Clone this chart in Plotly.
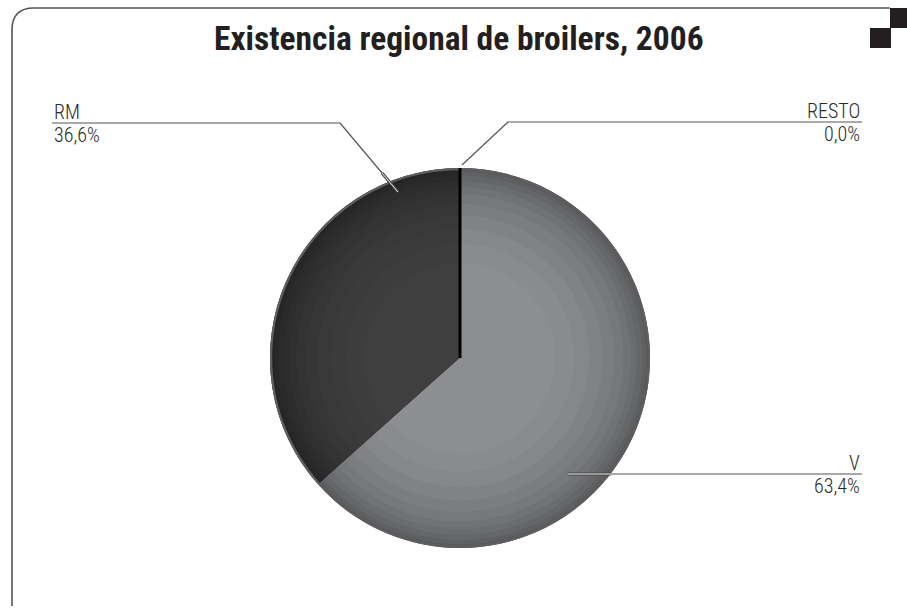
import plotly.graph_objects as go

W, H = 907, 608

# ---- data ----
categories = ["RESTO", "V", "RM"]
values = [0.0, 63.4, 36.6]
pct_labels = ["0,0%", "63,4%", "36,6%"]
title_text = "Existencia regional de broilers, 2006"

slice_colors = ["#000000", "#8d8e92", "#3f3f3f"]

def px(x):
    return x / W

def py(y):
    return 1 - y / H

# pie placement (pixels)
cx, cy, R = 460, 358, 190
dom_x = [px(cx - R), px(cx + R)]
dom_y = [py(cy + R), py(cy - R)]

fig = go.Figure()

fig.add_trace(go.Pie(
    labels=categories, values=values, sort=False, direction="clockwise",
    rotation=0, domain=dict(x=dom_x, y=dom_y),
    marker=dict(colors=slice_colors, line=dict(width=0)),
    textinfo="none", hoverinfo="label+percent", showlegend=False,
))

# radial darkening toward the rim (same data, translucent rings)
rings = [(0.50, 0.02), (0.60, 0.025), (0.68, 0.03), (0.75, 0.035), (0.81, 0.04),
         (0.86, 0.045), (0.90, 0.05), (0.93, 0.055), (0.96, 0.06), (0.98, 0.06)]
for hole, a in rings:
    fig.add_trace(go.Pie(
        labels=categories, values=values, sort=False, direction="clockwise",
        rotation=0, hole=hole, domain=dict(x=dom_x, y=dom_y),
        marker=dict(colors=[f"rgba(0,0,0,{a})"] * len(values), line=dict(width=0)),
        textinfo="none", hoverinfo="skip", showlegend=False,
    ))

# outer rim
fig.add_trace(go.Pie(
    labels=["rim"], values=[1], hole=0.988, sort=False,
    domain=dict(x=dom_x, y=dom_y),
    marker=dict(colors=["#5e5e60"], line=dict(width=0)),
    textinfo="none", hoverinfo="skip", showlegend=False,
))

shapes = []
# zero-value RESTO slice drawn as a radius line at 12 o'clock
shapes.append(dict(type="line", xref="paper", yref="paper",
                   x0=px(cx), y0=py(cy), x1=px(cx), y1=py(cy - R),
                   line=dict(color="#000000", width=3)))

def seg(x0, y0, x1, y1, color="#555555", width=1.2):
    shapes.append(dict(type="line", xref="paper", yref="paper",
                       x0=px(x0), y0=py(y0), x1=px(x1), y1=py(y1),
                       line=dict(color=color, width=width)))

# leader lines
# RM
seg(52, 123, 340, 123)
seg(340, 123, 398, 192)
seg(382, 173, 398, 192, color="#444444", width=3)
seg(382, 173, 398, 192, color="#eeeeee", width=1)
# RESTO
seg(508, 122, 862, 122)
seg(508, 122, 462, 165)
# V
seg(568, 474, 862, 474)
seg(568, 474, 611, 474, color="#444444", width=3)
seg(568, 474, 611, 474, color="#eeeeee", width=1)

# frame: rounded top-left corner, top and left edges
shapes.append(dict(type="path", xref="paper", yref="paper",
                   path=f"M {px(12)},{py(606)} L {px(12)},{py(30)} Q {px(12)},{py(8)} {px(34)},{py(8)} L {px(890)},{py(8)}",
                   line=dict(color="#555555", width=1.6)))
# corner squares
shapes.append(dict(type="rect", xref="paper", yref="paper",
                   x0=px(890), x1=px(907), y0=py(28), y1=py(8),
                   fillcolor="#231f20", line=dict(width=0)))
shapes.append(dict(type="rect", xref="paper", yref="paper",
                   x0=px(870), x1=px(891), y0=py(48), y1=py(28),
                   fillcolor="#231f20", line=dict(width=0)))

lab_font = dict(family="Roboto Condensed, Liberation Sans Narrow, sans-serif", size=20,
                color="#2a2a2a", weight=300)
annotations = []
label_pos = {
    "RM": (52, 123, "left"),
    "RESTO": (862, 122, "right"),
    "V": (862, 474, "right"),
}
for cat, pct in zip(categories, pct_labels):
    x, y, al = label_pos[cat]
    annotations.append(dict(x=px(x), y=py(y), xref="paper", yref="paper",
                            text=cat, showarrow=False, xanchor=al, yanchor="bottom",
                            font=lab_font, yshift=-3))
    annotations.append(dict(x=px(x), y=py(y), xref="paper", yref="paper",
                            text=pct, showarrow=False, xanchor=al, yanchor="top",
                            font=lab_font, yshift=2))

annotations.append(dict(x=px(459), y=py(38), xref="paper", yref="paper",
                        text=f"<b>{title_text}</b>", showarrow=False,
                        xanchor="center", yanchor="middle",
                        font=dict(family="Roboto Condensed, Liberation Sans Narrow, sans-serif",
                                  size=33.5, color="#231f20")))

fig.update_layout(
    width=W, height=H,
    margin=dict(l=0, r=0, t=0, b=0),
    paper_bgcolor="#ffffff", plot_bgcolor="#ffffff",
    shapes=shapes, annotations=annotations, showlegend=False,
)

fig.write_html("out.html", config=dict(displayModeBar=False),
               post_script="document.body.style.margin='0';document.body.style.overflow='hidden';")
